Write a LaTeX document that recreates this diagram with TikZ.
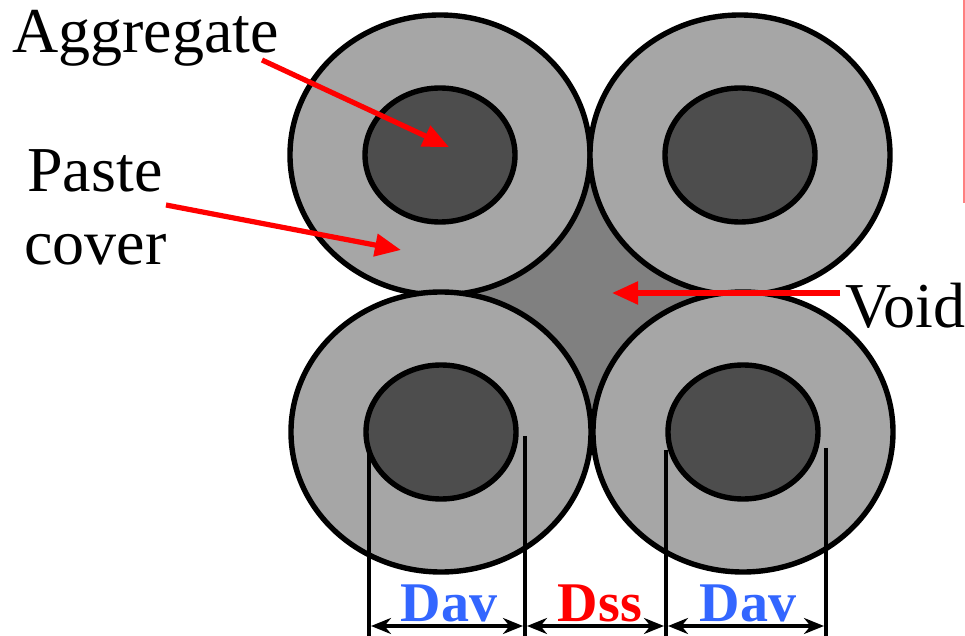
\documentclass[tikz,border=0pt]{standalone}
\usepackage{fontspec}
\setmainfont{Liberation Serif}
\usetikzlibrary{arrows.meta}
\definecolor{paste}{HTML}{A6A6A6}
\definecolor{agg}{HTML}{4D4D4D}
\definecolor{voidc}{HTML}{808080}
\definecolor{davblue}{HTML}{3366FF}
\definecolor{pinkline}{HTML}{FF8080}
\tikzset{
  outerc/.style={fill=paste,draw=black,line width=2.7pt},
  innerc/.style={fill=agg,draw=black,line width=2.7pt},
  redarrow/.style={draw=red,line width=2.6pt,-{Triangle[length=13pt,width=11pt]}},
  lbl/.style={inner sep=0pt,anchor=base west,font=\fontsize{32}{38}\selectfont},
  dimlbl/.style={inner sep=0pt,anchor=base,font=\fontsize{28}{32}\selectfont\bfseries},
  ext/.style={draw=black,line width=2.4pt},
  dimarrow/.style={draw=black,line width=2.2pt,{Stealth[length=10pt,width=8pt]}-{Stealth[length=10pt,width=8pt]}}
}
\begin{document}
\begin{tikzpicture}[x=0.5pt,y=-0.5pt]
\useasboundingbox (0,0) rectangle (965,636);
% centers
\coordinate (c1) at (440,155);
\coordinate (c2) at (740,155);
\coordinate (c3) at (441,432);
\coordinate (c4) at (743,432);
% void
\fill[voidc] (c1) -- (c2) -- (c4) -- (c3) -- cycle;
% circles
\draw[outerc] (c1) ellipse [x radius=150, y radius=140];
\draw[innerc] (c1) ellipse [x radius=75, y radius=67];
\draw[outerc] (c2) ellipse [x radius=150, y radius=140];
\draw[innerc] (c2) ellipse [x radius=75, y radius=67];
\draw[outerc] (c3) ellipse [x radius=150, y radius=140];
\draw[innerc] (c3) ellipse [x radius=75, y radius=67];
\draw[outerc] (c4) ellipse [x radius=150, y radius=140];
\draw[innerc] (c4) ellipse [x radius=75, y radius=67];
% pink line
\draw[pinkline,line width=1pt] (964,0) -- (964,203);
% labels
\node[lbl] (agglbl) at (12,53) {Aggregate};
\node[lbl] (pastelbl) at (27,192) {Paste};
\node[lbl] (coverlbl) at (24,265) {cover};
\node[lbl] (voidlbl) at (845,328) {Void};
\coordinate (aggfrom) at (262,60);
\coordinate (aggto) at (449,147);
\coordinate (pastefrom) at (166,205);
\coordinate (pasteto) at (401,250);
\coordinate (voidfrom) at (840,293);
\coordinate (voidto) at (612,293);
\draw[redarrow] (aggfrom) -- (aggto);
\draw[redarrow] (pastefrom) -- (pasteto);
\draw[redarrow] (voidfrom) -- (voidto);
% dimension extension lines
\coordinate (e1t) at (369,452); \coordinate (e1b) at (369,636);
\coordinate (e2t) at (525,436); \coordinate (e2b) at (525,636);
\coordinate (e3t) at (666,450); \coordinate (e3b) at (666,636);
\coordinate (e4t) at (826,448); \coordinate (e4b) at (826,636);
\draw[ext] (e1t) -- (e1b);
\draw[ext] (e2t) -- (e2b);
\draw[ext] (e3t) -- (e3b);
\draw[ext] (e4t) -- (e4b);
\coordinate (d1a) at (371,626); \coordinate (d1b) at (523,626);
\coordinate (d2a) at (527,626); \coordinate (d2b) at (664,626);
\coordinate (d3a) at (668,626); \coordinate (d3b) at (824,626);
\draw[dimarrow] (d1a) -- (d1b);
\draw[dimarrow] (d2a) -- (d2b);
\draw[dimarrow] (d3a) -- (d3b);
\node[dimlbl,text=davblue] (dav1) at (449,621) {Dav};
\node[dimlbl,text=red] (dss) at (600,621) {Dss};
\node[dimlbl,text=davblue] (dav2) at (748,621) {Dav};
\end{tikzpicture}
\end{document}
